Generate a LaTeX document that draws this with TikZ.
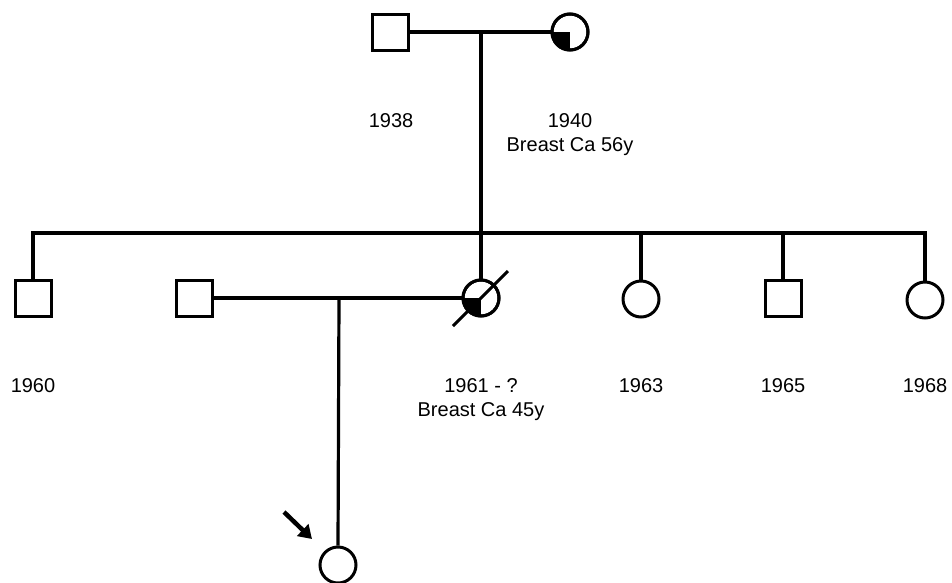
\documentclass[tikz,border=0pt]{standalone}
\usepackage{fontspec}
\setmainfont{Liberation Sans}
\usetikzlibrary{arrows.meta,calc}
\begin{document}
\begin{tikzpicture}[x=1pt,y=-1pt,
  male/.style={draw,line width=3pt,minimum size=36pt,inner sep=0pt,rectangle},
  female/.style={draw,line width=3pt,minimum size=36pt,inner sep=0pt,circle},
  link/.style={line width=3.2pt},
  lbl/.style={font=\fontsize{20}{24.5}\selectfont,align=center,inner sep=0pt,anchor=north}]
\useasboundingbox (0,0) rectangle (952,582);
% generation I
\node[male] (gf) at (390,32) {};
\node[female] (gm) at (570,32) {};
\coordinate (m1) at (481,32);
\draw[link] (gf.east) -- (gm.west);
\begin{scope}
  \clip (gm.center) circle (17);
  \fill (gm.center) rectangle ++(-18,18);
\end{scope}
\node[female] at (570,32) {};
\node[lbl] (t1938) at (391,113) {1938};
\node[lbl] (t1940) at (570,113) {1940\\Breast Ca 56y};
% sibship line
\coordinate (sL) at (33,233);
\coordinate (sR) at (924,233);
\coordinate (sM) at (481,233);
\draw[link] (m1) -- (sM);
% generation II
\node[male] (c1) at (33,298) {};
\node[male] (sp) at (194,298) {};
\node[female] (c2) at (481,298) {};
\node[female] (c3) at (641,299) {};
\node[male] (c4) at (783,298) {};
\node[female] (c5) at (925,300) {};
\draw[link] (c1.north) -- (c1.north |- sL) -- (c5.north |- sR) -- (c5.north);
\draw[link] (c2.north |- sM) -- (c2.north);
\draw[link] (c3.north |- sM) -- (c3.north);
\draw[link] (c4.north |- sM) -- (c4.north);
\begin{scope}
  \clip (c2.center) circle (17);
  \fill (c2.center) rectangle ++(-18,18);
\end{scope}
\node[female] at (481,298) {};
\draw[line width=3pt] (453,326) -- (508,271);
\draw[link] (sp.east) -- (c2.west);
\coordinate (m2) at (339,298);
% generation III
\node[female] (p) at (338,565) {};
\draw[link] (m2) -- (p.north);
\coordinate (a1) at (284,512);
\coordinate (a2) at (312,539);
\draw[line width=4.5pt,-{Triangle[length=13pt,width=16pt]}] (a1) -- (a2);
% labels
\node[lbl] at (33,378) {1960};
\node[lbl] at (481,378) {1961 - ?\\Breast Ca 45y};
\node[lbl] at (641,378) {1963};
\node[lbl] at (783,378) {1965};
\node[lbl] at (925,378) {1968};
\end{tikzpicture}
\end{document}
